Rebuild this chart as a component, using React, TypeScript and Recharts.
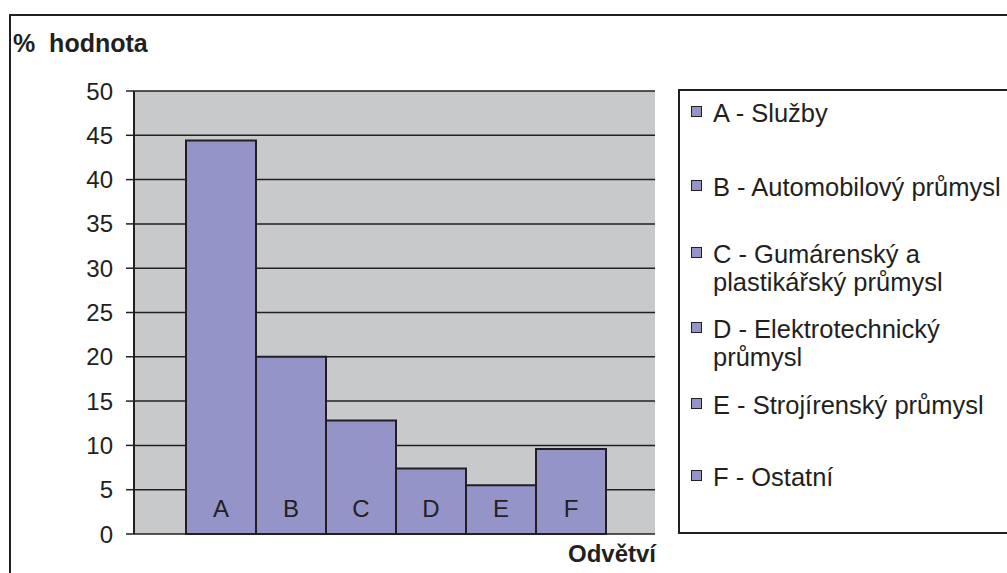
import React from 'react';
import {
  BarChart,
  Bar,
  XAxis,
  YAxis,
  CartesianGrid,
  Legend,
  LabelList
} from 'recharts';

// odvětví (písmeno ve sloupci) a podíl v %
const CATEGORIES = ['A', 'B', 'C', 'D', 'E', 'F'];
const SHARES = [44.4, 20, 12.8, 7.4, 5.5, 9.6];
const SECTOR_NAMES = [
  'Služby',
  'Automobilový průmysl',
  'Gumárenský a\nplastikářský průmysl',
  'Elektrotechnický\nprůmysl',
  'Strojírenský průmysl',
  'Ostatní'
];
const Y_TICKS = [0, 5, 10, 15, 20, 25, 30, 35, 40, 45, 50];

const FONT = "'Liberation Sans', Arial, Helvetica, sans-serif";
const INK = '#231f20';
const BAR_FILL = '#9494c8';
const PLOT_BG = '#c8c9cb';

// one row, one series per sector -> bars sit side by side like in Excel
const row: Record<string, number | string> = { name: '' };
CATEGORIES.forEach((c, i) => {
  row[c] = SHARES[i];
});
const chartData = [row];

// top of each legend row inside the box (Excel spreads them unevenly)
const legendRowTop = [8, 82, 149, 224, 300, 372];

const SectorLegend = (props: any) => {
  const payload = props.payload || [];
  return (
    <div
      style={{
        position: 'relative',
        width: '100%',
        height: '100%',
        boxSizing: 'border-box',
        border: `2px solid ${INK}`,
        background: '#fff',
        fontFamily: FONT,
        fontSize: 25.5,
        lineHeight: '28px',
        color: INK
      }}
    >
      {payload.map((entry: any, i: number) => (
        <div
          key={entry.value}
          style={{ position: 'absolute', left: 11, top: legendRowTop[i], whiteSpace: 'pre' }}
        >
          <span
            style={{
              position: 'absolute',
              left: 0,
              top: 7,
              width: 11,
              height: 11,
              boxSizing: 'border-box',
              background: BAR_FILL,
              border: `1.5px solid ${INK}`
            }}
          />
          <div style={{ marginLeft: 22 }}>{entry.value}</div>
        </div>
      ))}
    </div>
  );
};

export default function App() {
  return (
    <div
      style={{
        position: 'absolute',
        left: 0,
        top: 0,
        width: 1007,
        height: 573,
        overflow: 'hidden',
        background: '#fff',
        fontFamily: FONT
      }}
    >
      {/* outer frame of the chart object */}
      <div
        style={{
          position: 'absolute',
          left: 9,
          top: 14,
          width: 1100,
          height: 700,
          border: `2px solid ${INK}`
        }}
      />
      <div
        style={{
          position: 'absolute',
          left: 13,
          top: 29,
          fontSize: 25,
          fontWeight: 'bold',
          color: INK,
          whiteSpace: 'pre'
        }}
      >
        {'%  hodnota'}
      </div>
      <div style={{ position: 'absolute', left: 0, top: 0 }}>
        <BarChart
          width={1007}
          height={573}
          data={chartData}
          margin={{ top: 91, right: 352, bottom: 0, left: 0 }}
          barGap={0}
          barCategoryGap={52}
        >
          <CartesianGrid
            vertical={false}
            fill={PLOT_BG}
            fillOpacity={1}
            stroke={INK}
            strokeWidth={1.5}
          />
          <XAxis
            dataKey="name"
            height={39}
            tick={false}
            tickLine={false}
            axisLine={false}
            label={{
              value: 'Odvětví',
              position: 'insideBottomRight',
              offset: 11,
              dx: 12,
              fill: INK,
              fontSize: 24,
              fontWeight: 'bold',
              fontFamily: FONT
            }}
          />
          <YAxis
            width={134}
            domain={[0, 50]}
            ticks={Y_TICKS}
            interval={0}
            tickSize={8}
            tickMargin={13}
            axisLine={{ stroke: INK, strokeWidth: 2 }}
            tickLine={{ stroke: INK, strokeWidth: 1.5 }}
            tick={{ fill: INK, fontSize: 24, fontFamily: FONT }}
          />
          <Legend
            layout="vertical"
            align="center"
            verticalAlign="middle"
            wrapperStyle={{ position: 'absolute', left: 678, top: 89, width: 360, height: 445 }}
            content={<SectorLegend />}
          />
          {CATEGORIES.map((c, i) => (
            <Bar
              key={c}
              dataKey={c}
              name={`${c} - ${SECTOR_NAMES[i]}`}
              fill={BAR_FILL}
              stroke={INK}
              strokeWidth={2}
              isAnimationActive={false}
            >
              <LabelList
                dataKey={c}
                position="insideBottom"
                offset={17}
                formatter={() => c}
                fill={INK}
                fontSize={24}
                fontFamily={FONT}
              />
            </Bar>
          ))}
        </BarChart>
      </div>
    </div>
  );
}
